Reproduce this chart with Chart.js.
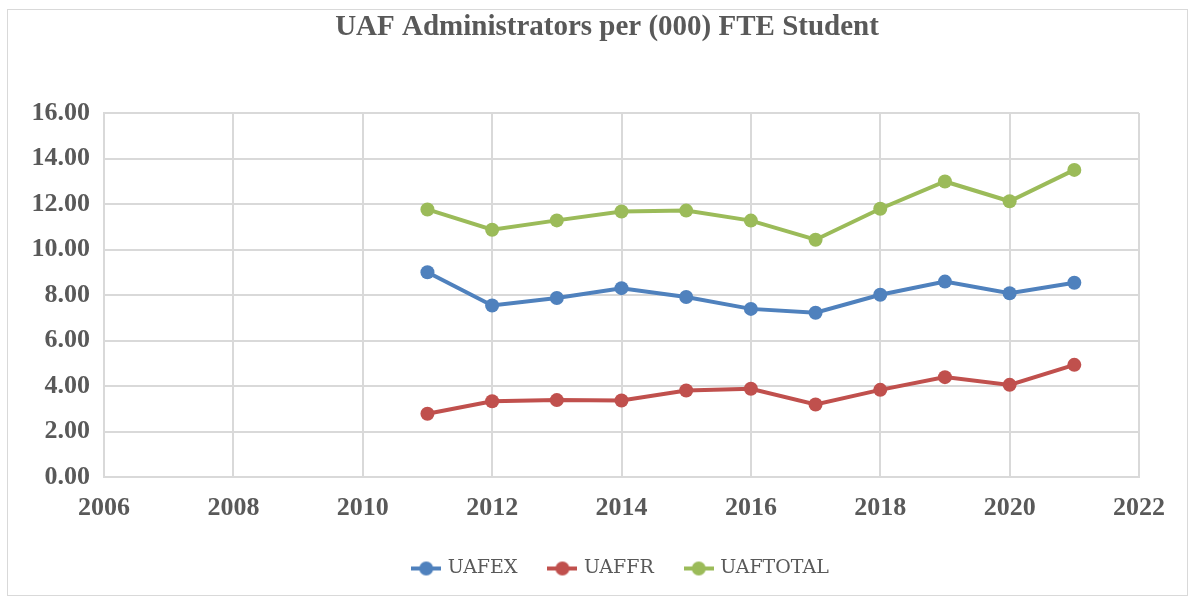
<!DOCTYPE html>
<html>
<head>
<meta charset="utf-8">
<script src="https://cdn.jsdelivr.net/npm/chart.js@4"></script>
<style>
  html, body { margin: 0; padding: 0; background: #fff; }
  #wrap { width: 1192px; height: 600px; position: relative; }
</style>
</head>
<body>
<div id="wrap"><canvas id="chart" width="1192" height="600"></canvas></div>
<script>
// data
const years = [2011, 2012, 2013, 2014, 2015, 2016, 2017, 2018, 2019, 2020, 2021];
const uafex = [9.00, 7.54, 7.87, 8.30, 7.91, 7.39, 7.22, 8.01, 8.59, 8.08, 8.54];
const uaffr = [2.78, 3.33, 3.38, 3.36, 3.80, 3.88, 3.19, 3.83, 4.39, 4.05, 4.93];
const uaftotal = [11.76, 10.87, 11.28, 11.67, 11.71, 11.27, 10.43, 11.79, 12.99, 12.12, 13.50];

const seriesNames = ['UAFEX', 'UAFFR', 'UAFTOTAL'];
const seriesColors = ['#4F81BD', '#C0504D', '#9BBB59'];
const seriesValues = [uafex, uaffr, uaftotal];
const chartTitle = 'UAF Administrators per (000) FTE Student';

const textColor = '#595959';
const gridColor = '#d9d9d9';

// little line + dot picture for the legend, like Excel does it
function makeMarker(color) {
  const c = document.createElement('canvas');
  c.width = 30;
  c.height = 16;
  const ctx = c.getContext('2d');
  ctx.strokeStyle = color;
  ctx.lineWidth = 4;
  ctx.beginPath();
  ctx.moveTo(0, 8);
  ctx.lineTo(30, 8);
  ctx.stroke();
  ctx.fillStyle = color;
  ctx.beginPath();
  ctx.arc(15, 8, 7, 0, Math.PI * 2);
  ctx.fill();
  return c;
}
const markers = seriesColors.map(makeMarker);

// white background, thin outer frame and the title (Excel puts it a bit right of centre)
const frame = {
  id: 'frame',
  beforeDraw(chart) {
    const ctx = chart.ctx;
    ctx.save();
    ctx.fillStyle = '#fff';
    ctx.fillRect(0, 0, chart.width, chart.height);
    ctx.strokeStyle = '#d9d9d9';
    ctx.lineWidth = 1;
    ctx.strokeRect(7.5, 9.5, 1180, 586);
    ctx.fillStyle = textColor;
    ctx.font = 'bold 29px "Liberation Serif", serif';
    ctx.textAlign = 'center';
    ctx.textBaseline = 'middle';
    ctx.fillText(chartTitle, 607, 28);
    ctx.restore();
  }
};

const datasets = seriesNames.map((name, i) => ({
  label: name,
  data: years.map((yr, j) => ({ x: yr, y: seriesValues[i][j] })),
  borderColor: seriesColors[i],
  backgroundColor: seriesColors[i],
  borderWidth: 4,
  pointRadius: 7,
  pointHoverRadius: 7,
  pointBorderWidth: 0,
  tension: 0,
  fill: false,
}));

const ctx = document.getElementById('chart').getContext('2d');
new Chart(ctx, {
  type: 'line',
  data: { datasets },
  plugins: [frame],
  options: {
    responsive: false,
    animation: false,
    layout: { padding: { left: 0, right: 53, top: 113, bottom: 12 } },
    plugins: {
      title: { display: false },
      legend: {
        position: 'bottom',
        fullSize: false,
        labels: {
          color: textColor,
          font: { family: '"DejaVu Serif", serif', size: 19 },
          usePointStyle: true,
          pointStyleWidth: 24,
          padding: 33,
          generateLabels(chart) {
            const items = Chart.defaults.plugins.legend.labels.generateLabels(chart);
            items.forEach((it, i) => { it.pointStyle = markers[i]; });
            return items;
          }
        }
      },
      tooltip: { enabled: false }
    },
    scales: {
      x: {
        type: 'linear',
        min: 2006,
        max: 2022,
        afterFit(scale) { scale.height = 49; },
        ticks: {
          stepSize: 2,
          color: textColor,
          padding: 16,
          font: { family: '"Liberation Serif", serif', size: 26, weight: 'bold' },
          callback: v => String(v),
        },
        grid: { color: gridColor, lineWidth: 2, drawTicks: false },
        border: { color: gridColor, width: 2 },
      },
      y: {
        min: 0,
        max: 16,
        afterFit(scale) { scale.width = 104; },
        ticks: {
          stepSize: 2,
          color: textColor,
          padding: 14,
          font: { family: '"Liberation Serif", serif', size: 26, weight: 'bold' },
          callback: v => v.toFixed(2),
        },
        grid: { color: gridColor, lineWidth: 2, drawTicks: false },
        border: { color: gridColor, width: 2 },
      }
    }
  }
});
</script>
</body>
</html>
